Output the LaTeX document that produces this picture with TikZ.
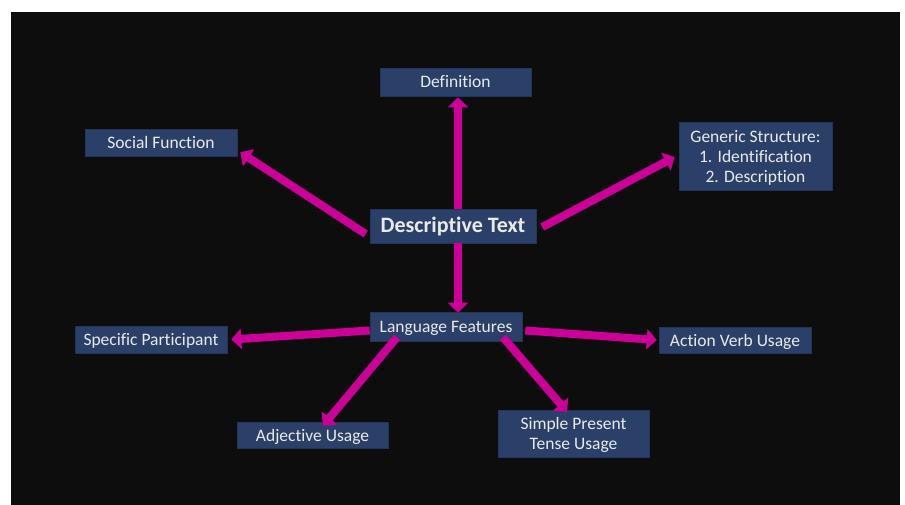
\documentclass[tikz,border=0pt]{standalone}
\usepackage{fontspec}
\setmainfont{Carlito}[Ligatures=NoCommon]
\usetikzlibrary{arrows.meta}
\definecolor{bgdark}{HTML}{0D0D0D}
\definecolor{boxblue}{HTML}{2B4068}
\definecolor{boxedge}{HTML}{22345A}
\definecolor{mag}{HTML}{CC0099}
\definecolor{txt}{HTML}{EAEAEA}
\tikzset{
  box/.style={fill=boxblue, draw=boxedge, line width=0.6pt, text=txt, inner sep=0pt,
    align=center, font=\fontsize{17.5}{20}\selectfont, text depth=0pt},
  oneline/.style={box, text height=12pt},
  arr/.style={draw=mag, line width=8pt, -{Triangle[length=10pt,width=20pt]}}
}
\begin{document}
\begin{tikzpicture}[x=1pt,y=-1pt]
\useasboundingbox (0,0) rectangle (905,505);
\fill[white] (0,0) rectangle (905,505);
\fill[bgdark] (11,12) rectangle (900,505);

\node[oneline, minimum width=151pt, minimum height=28pt] (def) at (455.5,82) {Definition};
\node[oneline, minimum width=152pt, minimum height=27pt] (sf) at (161,142.5) {Social Function};
\node[box, minimum width=153pt, minimum height=68pt] (gs) at (755.5,156) {Generic Structure:\\1. Identification\\2. Description};
\node[oneline, minimum width=166pt, minimum height=34pt, font=\fontsize{22}{26}\selectfont\bfseries, text height=14pt] (dt) at (453,226) {Descriptive Text};
\node[oneline, minimum width=152pt, minimum height=29pt] (lf) at (446,326.5) {Language Features};
\node[oneline, minimum width=152pt, minimum height=27pt] (sp) at (151,339.5) {Specific Participant};
\node[oneline, minimum width=152pt, minimum height=26pt] (av) at (735,340) {Action Verb Usage};
\node[oneline, minimum width=151pt, minimum height=26pt] (adj) at (312.5,435) {Adjective Usage};
\node[box, minimum width=151pt, minimum height=47pt] (spt) at (573.5,433.5) {Simple Present\\Tense Usage};

\draw[arr] ([xshift=5pt]dt.north) -- ([xshift=2.5pt,yshift=-1pt]def.south);
\draw[arr] ([xshift=-4pt,yshift=-8pt]dt.west) -- ([xshift=3pt,yshift=4pt]sf.south east);
\draw[arr] ([xshift=6pt,yshift=-1pt]dt.east) -- ([xshift=-4pt,yshift=-1pt]gs.west);
\draw[arr] ([xshift=5pt]dt.south) -- ([xshift=12pt,yshift=-1pt]lf.north);
\draw[arr] ([xshift=0pt,yshift=-4pt]lf.west) -- ([xshift=4pt]sp.east);
\draw[arr] ([xshift=3pt,yshift=-4pt]lf.east) -- ([xshift=-2pt]av.west);
\draw[arr] ([xshift=-49pt,yshift=4pt]lf.south) -- ([xshift=10.5pt,yshift=-4pt]adj.north);
\draw[arr] ([xshift=57pt,yshift=4pt]lf.south) -- ([xshift=-6.5pt,yshift=-2pt]spt.north);
\end{tikzpicture}
\end{document}
